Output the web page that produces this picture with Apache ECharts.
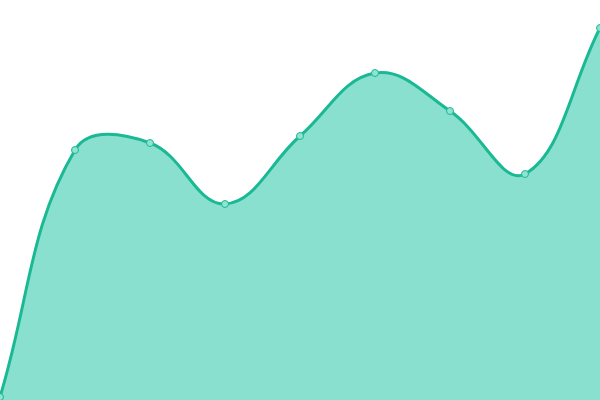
<!DOCTYPE html>
<html><head><meta charset="utf-8">
<script src="https://cdn.jsdelivr.net/npm/echarts@6/dist/echarts.min.js"></script>
<style>html,body{margin:0;padding:0;background:#fff}#c{width:600px;height:400px}</style>
</head><body><div id="c"></div>
<script>
const categories = ['1','2','3','4','5','6','7','8','9'];
const values = [3, 250, 257, 196, 264, 327, 289, 226, 372];
const TENSION = 0.4;

function splinePath(pts) {
  const n = pts.length;
  const cps = pts.map((p, i) => {
    const prev = pts[i - 1] || p, next = pts[i + 1] || p;
    const d01 = Math.hypot(p[0] - prev[0], p[1] - prev[1]);
    const d12 = Math.hypot(next[0] - p[0], next[1] - p[1]);
    let s01 = d01 / (d01 + d12), s12 = d12 / (d01 + d12);
    if (isNaN(s01)) s01 = 0; if (isNaN(s12)) s12 = 0;
    const fa = TENSION * s01, fb = TENSION * s12;
    return {
      prev: [p[0] - fa * (next[0] - prev[0]), p[1] - fa * (next[1] - prev[1])],
      next: [p[0] + fb * (next[0] - prev[0]), p[1] + fb * (next[1] - prev[1])]
    };
  });
  let d = 'M' + pts[0][0] + ' ' + pts[0][1];
  for (let i = 1; i < n; i++) {
    const a = cps[i - 1].next, b = cps[i].prev, p = pts[i];
    d += ' C' + a[0] + ' ' + a[1] + ' ' + b[0] + ' ' + b[1] + ' ' + p[0] + ' ' + p[1];
  }
  return d;
}

const chart = echarts.init(document.getElementById('c'));
chart.setOption({
  animation: false,
  grid: {left: 0, right: 0, top: 0, bottom: 0},
  xAxis: {type: 'category', data: categories, boundaryGap: false, show: false},
  yAxis: {type: 'value', min: 0, max: 400, show: false},
  series: [{
    type: 'custom',
    coordinateSystem: 'cartesian2d',
    data: [[0, 0]],
    clip: false,
    renderItem: function (params, api) {
      const pts = values.map((v, i) => api.coord([i, v]));
      const base = api.coord([0, 0])[1];
      const line = splinePath(pts);
      const area = line + ' L' + pts[pts.length - 1][0] + ' ' + base + ' L' + pts[0][0] + ' ' + base + ' Z';
      return {
        type: 'group',
        children: [
          {type: 'path', shape: {pathData: area}, style: {fill: '#89e0cf', stroke: null}},
          {type: 'path', shape: {pathData: line}, style: {fill: null, stroke: '#1ab994', lineWidth: 3, lineJoin: 'round'}}
        ]
      };
    },
    z: 1
  }, {
    type: 'line',
    data: values,
    symbol: 'circle',
    symbolSize: 7,
    lineStyle: {width: 0, opacity: 0},
    itemStyle: {color: '#8ee3d1', borderColor: '#1ab994', borderWidth: 1},
    z: 3
  }]
});
</script></body></html>
